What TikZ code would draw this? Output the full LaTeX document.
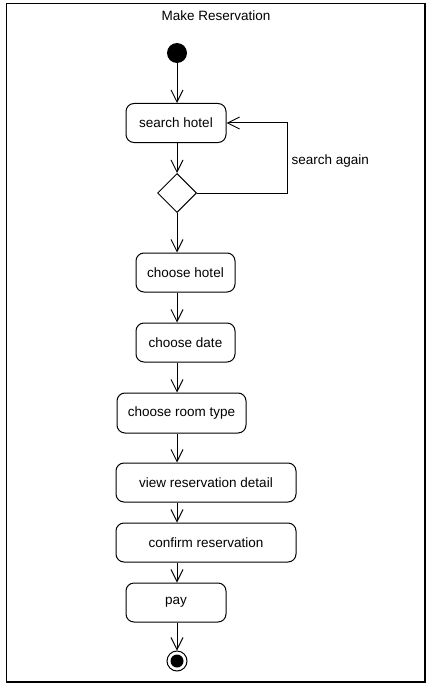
\documentclass[tikz,border=0pt]{standalone}
\usepackage{fontspec}
\setmainfont{Liberation Sans}
\usetikzlibrary{shapes.geometric,arrows.meta}
\begin{document}
\begin{tikzpicture}[x=1pt,y=-1pt,
  every node/.style={font=\fontsize{13.5}{16}\selectfont},
  act/.style={draw,rounded corners=8pt,line width=1pt,minimum height=39pt,inner sep=0pt},
  arr/.style={draw,line width=1pt,-{Straight Barb[length=12pt,width=12pt,line width=1pt]}},
  dec/.style={draw,diamond,line width=1pt,minimum width=39pt,minimum height=39pt,inner sep=0pt}]
\useasboundingbox (0,0) rectangle (429,690);
\draw[line width=1.3pt] (6.5,3.7) rectangle (425,682);
\node (title) at (216,16) {Make Reservation};
\node[circle,fill=black,minimum size=20pt,inner sep=0pt] (ini) at (177,53) {};
\node[act,minimum width=100pt] (sh) at (176,123) {search hotel};
\node[dec] (dia) at (177,193) {};
\node[act,minimum width=99pt] (ch) at (185.5,272.5) {choose hotel};
\node[act,minimum width=99pt] (cd) at (185.5,342.5) {choose date};
\node[act,minimum width=129pt,minimum height=40pt] (crt) at (181.5,413) {choose room type};
\node[act,minimum width=180pt] (vrd) at (206,482.5) {view reservation detail};
\node[act,minimum width=180pt] (cr) at (206,542.5) {confirm reservation};
\node[act,minimum width=100pt] (pay) at (176,602.5) {pay};
\node[circle,draw,line width=1pt,minimum size=20pt,inner sep=0pt] (fin) at (177,661) {};
\node[circle,fill=black,minimum size=13pt,inner sep=0pt] (finin) at (fin.center) {};
\coordinate (loopx) at (287,0);
\node[anchor=west] (lbl) at (288,161) {search again};
\draw[arr] (ini) -- (sh.north -| ini);
\draw[arr] (sh.south -| ini) -- (dia.north);
\draw[arr] (dia.east) -- (dia.east -| loopx) |- (sh.east);
\draw[arr] (dia.south) -- (ch.north -| ini);
\draw[arr] (ch.south -| ini) -- (cd.north -| ini);
\draw[arr] (cd.south -| ini) -- (crt.north -| ini);
\draw[arr] (crt.south -| ini) -- (vrd.north -| ini);
\draw[arr] (vrd.south -| ini) -- (cr.north -| ini);
\draw[arr] (cr.south -| ini) -- (pay.north -| ini);
\draw[arr] (pay.south -| ini) -- (fin.north);
\end{tikzpicture}
\end{document}
